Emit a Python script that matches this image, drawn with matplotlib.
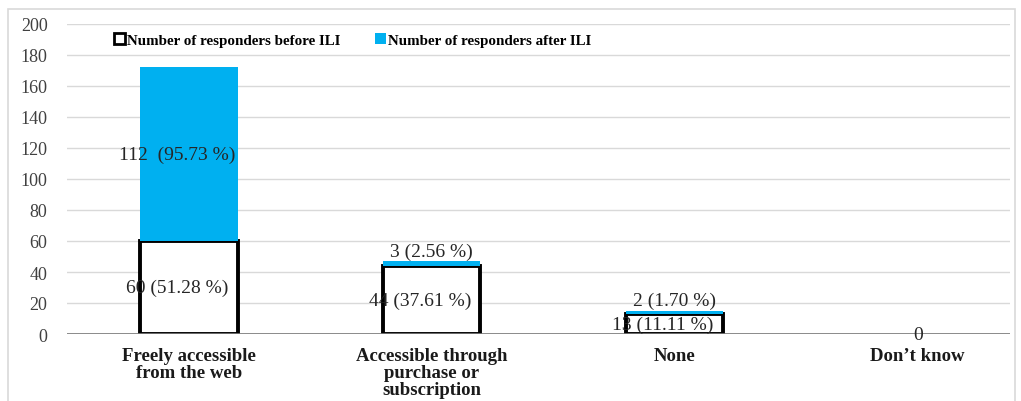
import matplotlib
matplotlib.use("Agg")
import matplotlib.pyplot as plt
from matplotlib.patches import Rectangle, Patch
import numpy as np

categories = ["Freely accessible\nfrom the web", "Accessible through\npurchase or\nsubscription", "None", "Don\u2019t know"]
before = [60, 44, 13, 0]
after = [112, 3, 2, 0]
before_pct = ["51.28 %", "37.61 %", "11.11 %", None]
after_pct = ["95.73 %", "2.56 %", "1.70 %", None]
yticks = list(range(0, 201, 20))

plt.rcParams['font.family'] = ['Liberation Serif', 'DejaVu Serif']

fig = plt.figure(figsize=(10.21, 4.02), dpi=100)
fig.patches.append(Rectangle((8/1021, -0.01), 1007/1021, 1 - 10/402 + 0.01, transform=fig.transFigure,
                             fill=False, edgecolor='#d9d9d9', lw=1.2))
ax = fig.add_axes([67/1021, 1 - 335/402, (1010 - 67)/1021, (335 - 25)/402])

x = np.arange(len(categories))
w = 0.40
blue = '#00B0F0'
edge_w = [2.8 if b > 0 else 0 for b in before]
ax.bar(x, before, width=w, color='white', edgecolor='black', linewidth=edge_w, zorder=3)
ax.bar(x, after, width=w, bottom=before, color=blue, edgecolor='none', zorder=3)

ax.set_ylim(0, 200)
ax.set_xlim(-0.502, 3.38)
ax.set_yticks(yticks)
ax.grid(axis='y', color='#d9d9d9', lw=1, zorder=0)
ax.axhline(0, color='#d0d0d0', lw=1.2, zorder=2)
ax.axhline(0, color='#7f7f7f', lw=1.2, zorder=4)
for s in ax.spines.values():
    s.set_visible(False)
ax.tick_params(axis='y', length=0, pad=14, labelsize=13, labelcolor='#404040')
ax.tick_params(axis='x', length=0, pad=9.5)
ax.set_xticks(x)
ax.set_xticklabels(categories, fontsize=13.5, fontweight='bold', color='#1a1a1a', linespacing=1.0, va='top')

lab_kw = dict(fontsize=14, color='#262626', ha='center', va='center', zorder=6, clip_on=False)
dx = -0.05
for i in range(len(categories)):
    b, a = before[i], after[i]
    if b == 0 and a == 0:
        ax.text(x[i], -0.5, "0", **lab_kw)
        continue
    if b >= 10:
        ax.text(x[i] + dx, b / 2, f"{b} ({before_pct[i]})", **lab_kw)
    if a >= 10:
        ax.text(x[i] + dx, b + a / 2, f"{a}  ({after_pct[i]})", **lab_kw)
    else:
        ax.text(x[i], b + a + 6.5, f"{a} ({after_pct[i]})", **lab_kw)

handles = [Patch(facecolor='white', edgecolor='black', linewidth=2),
           Patch(facecolor=blue, edgecolor='none')]
leg = fig.legend(handles, ["Number of responders before ILI", "Number of responders after ILI"],
                 loc='center left', bbox_to_anchor=(100/1021, 1 - 41/402), ncol=2, frameon=False,
                 prop={'weight': 'bold', 'size': 10.8}, handlelength=0.75, handleheight=0.75,
                 handletextpad=0.15, columnspacing=2.3)

fig.savefig("out.png", dpi=100)
